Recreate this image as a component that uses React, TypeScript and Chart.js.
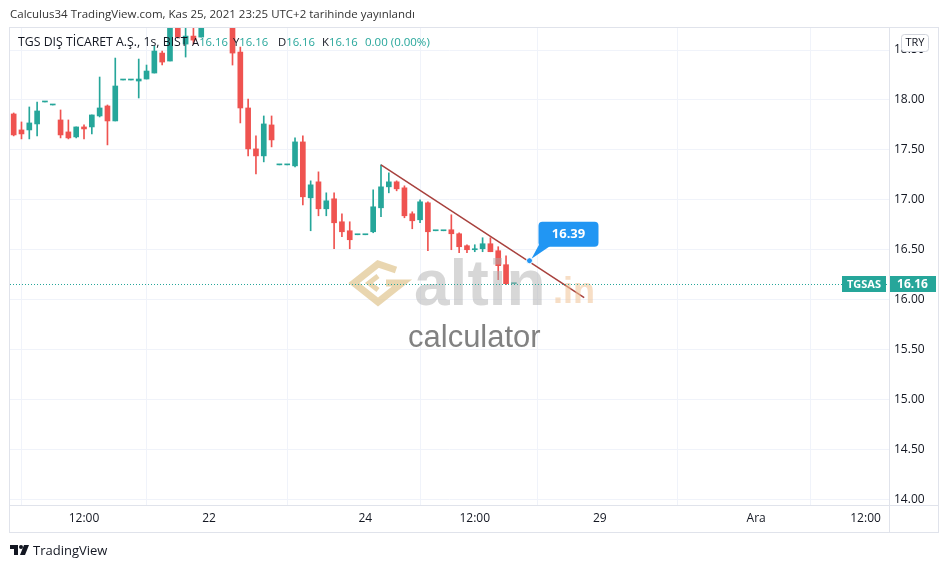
import React, { useEffect, useRef } from "react";
import { Chart, registerables } from "chart.js";

Chart.register(...registerables);

// ---- data (hourly bars, index 0 = first bar of Nov 22) ----
const BAR_INDEX = [
  -25, -24, -23, -22, -21, -20, -19, -18, -17, -16, -15, -14, -13, -12, -11, -10, -9, -8, -7, -6, -5, -4, -3, -2, -1,
  0, 1, 2, 3, 4, 5, 6, 7, 8, 9, 10, 11, 12, 13, 14, 15, 16, 17, 18, 19, 20, 21, 22, 23, 24, 25, 26, 27, 28, 29,
  30, 31, 32, 33, 34, 35, 36, 37, 38, 39,
];
const OPEN = [
  17.86, 17.70, 17.70, 17.76, 17.98, 17.95, 17.80, 17.68, 17.63, 17.73, 17.73, 17.84, 17.94, 17.79, 18.20, 18.20,
  18.19, 18.21, 18.27, 18.47, 18.39, 18.80, 18.56, 18.64, 18.63,
  18.95, 19.00, 18.85, 18.80, 18.48, 17.92, 17.51, 17.44, 17.75, 17.35, 17.35, 17.34, 17.58, 17.02, 17.18, 16.91,
  17.01, 16.78, 16.69, 16.65, 16.65, 16.68, 16.92, 17.13, 17.18, 17.12, 16.86, 16.80, 16.97, 16.69,
  16.69, 16.70, 16.66, 16.54, 16.50, 16.51, 16.56, 16.49, 16.35, 16.16,
];
const HIGH = [
  17.87, 17.78, 17.93, 17.98, 17.98, 17.95, 17.90, 17.80, 17.73, 17.75, 17.85, 18.23, 17.95, 18.42, 18.20, 18.20,
  18.41, 18.35, 18.54, 18.49, 18.82, 18.84, 18.76, 18.76, 18.90,
  19.10, 19.05, 18.90, 18.85, 18.53, 18.01, 17.64, 17.84, 17.84, 17.35, 17.35, 17.62, 17.64, 17.19, 17.28, 17.07,
  17.07, 16.86, 16.78, 16.65, 16.65, 17.10, 17.35, 17.27, 17.19, 17.14, 16.88, 17.00, 16.98, 16.69,
  16.69, 16.85, 16.67, 16.55, 16.55, 16.62, 16.62, 16.53, 16.44, 16.16,
];
const LOW = [
  17.64, 17.61, 17.61, 17.64, 17.98, 17.95, 17.62, 17.61, 17.62, 17.61, 17.66, 17.83, 17.55, 17.79, 18.20, 18.20,
  18.02, 18.21, 18.27, 18.35, 18.39, 18.62, 18.43, 18.56, 18.63,
  18.85, 18.80, 18.76, 18.35, 17.77, 17.44, 17.26, 17.38, 17.53, 17.35, 17.35, 17.33, 16.95, 16.69, 16.84, 16.84,
  16.51, 16.63, 16.51, 16.65, 16.65, 16.67, 16.83, 17.07, 17.09, 16.82, 16.71, 16.77, 16.49, 16.69,
  16.69, 16.50, 16.47, 16.47, 16.48, 16.48, 16.48, 16.20, 16.15, 16.16,
];
const CLOSE = [
  17.65, 17.66, 17.77, 17.89, 17.98, 17.95, 17.65, 17.62, 17.73, 17.71, 17.85, 17.92, 17.79, 18.14, 18.20, 18.20,
  18.21, 18.29, 18.49, 18.38, 18.80, 18.63, 18.64, 18.60, 18.85,
  19.00, 18.85, 18.80, 18.47, 17.92, 17.51, 17.44, 17.76, 17.60, 17.35, 17.35, 17.58, 17.03, 17.15, 16.91, 16.99,
  16.77, 16.68, 16.60, 16.65, 16.65, 16.93, 17.13, 17.18, 17.11, 16.84, 16.79, 16.98, 16.68, 16.69,
  16.69, 16.66, 16.53, 16.50, 16.51, 16.56, 16.48, 16.34, 16.16, 16.16,
];

const TREND_X = [22, 48];
const TREND_Y = [17.35, 16.02];
const CALLOUT_X = 41;
const CALLOUT_VALUE = 16.39;
const LAST_PRICE = 16.16;
const SYMBOL = "TGSAS";

const PRICE_TICKS = [14.0, 14.5, 15.0, 15.5, 16.0, 16.5, 17.0, 17.5, 18.0, 18.5];
const TIME_TICK_INDEX = [-16, 0, 20, 34, 50, 70, 84];
const TIME_TICK_LABELS = ["12:00", "22", "24", "12:00", "29", "Ara", "12:00"];

const LEGEND_KEYS = ["A", "Y", "D", "K"];
const LEGEND_VALUES = ["16.16", "16.16", "16.16", "16.16"];
const LEGEND_CHANGE = "0.00 (0.00%)";

const X_MIN = -25.47;
const X_MAX = 87.0;
const Y_MIN = 13.943;
const Y_MAX = 18.731;

const UP = "#26a69a";
const DOWN = "#ef5350";
const GRID = "#f0f3fa";
const BORDER = "#e0e3eb";
const TEXT = "#131722";
const FONT = "'Open Sans', 'Noto Sans', sans-serif";

function roundRect(ctx: CanvasRenderingContext2D, x: number, y: number, w: number, h: number, r: number) {
  ctx.beginPath();
  ctx.moveTo(x + r, y);
  ctx.lineTo(x + w - r, y);
  ctx.quadraticCurveTo(x + w, y, x + w, y + r);
  ctx.lineTo(x + w, y + h - r);
  ctx.quadraticCurveTo(x + w, y + h, x + w - r, y + h);
  ctx.lineTo(x + r, y + h);
  ctx.quadraticCurveTo(x, y + h, x, y + h - r);
  ctx.lineTo(x, y + r);
  ctx.quadraticCurveTo(x, y, x + r, y);
  ctx.closePath();
}

function drawWatermark(ctx: CanvasRenderingContext2D) {
  ctx.save();
  ctx.strokeStyle = "rgba(226, 200, 150, 0.75)";
  ctx.lineJoin = "miter";
  ctx.lineWidth = 7;
  ctx.beginPath();
  ctx.moveTo(396, 270);
  ctx.lineTo(378, 264);
  ctx.lineTo(354, 283);
  ctx.lineTo(378, 302);
  ctx.lineTo(402, 283);
  ctx.lineTo(386, 283);
  ctx.stroke();
  ctx.lineWidth = 5;
  ctx.beginPath();
  ctx.moveTo(378, 276);
  ctx.lineTo(369, 283);
  ctx.lineTo(378, 290);
  ctx.stroke();
  ctx.textBaseline = "alphabetic";
  ctx.textAlign = "left";
  ctx.font = "bold 64px 'Liberation Sans', Arial, sans-serif";
  ctx.fillStyle = "rgba(175, 175, 175, 0.5)";
  ctx.fillText("altin", 414, 305);
  ctx.font = "bold 36px 'Liberation Sans', Arial, sans-serif";
  ctx.fillStyle = "rgba(240, 195, 150, 0.55)";
  ctx.fillText(".in", 553, 303);
  ctx.font = "31px 'Liberation Sans', Arial, sans-serif";
  ctx.fillStyle = "rgba(115, 115, 115, 0.9)";
  ctx.fillText("calculator", 408, 347);
  ctx.restore();
}

const overlayPlugin = {
  id: "tvOverlay",
  afterDatasetsDraw(chart: any) {
    const { ctx, chartArea: a, scales } = chart;
    const xs = scales.x;
    const ys = scales.y;
    ctx.save();
    ctx.beginPath();
    ctx.rect(a.left, a.top, a.right - a.left, a.bottom - a.top);
    ctx.clip();

    drawWatermark(ctx);

    const py = Math.round(ys.getPixelForValue(LAST_PRICE)) + 0.5;
    ctx.setLineDash([1, 2]);
    ctx.strokeStyle = UP;
    ctx.lineWidth = 1;
    ctx.beginPath();
    ctx.moveTo(a.left, py);
    ctx.lineTo(a.right, py);
    ctx.stroke();
    ctx.setLineDash([]);

    ctx.fillStyle = UP;
    ctx.fillRect(a.right - 47, py - 8.5, 44, 16);
    ctx.fillStyle = "#ffffff";
    ctx.font = `bold 11px ${FONT}`;
    ctx.textAlign = "center";
    ctx.textBaseline = "middle";
    ctx.fillText(SYMBOL, a.right - 25, py);

    const dx = xs.getPixelForValue(CALLOUT_X);
    const dy = ys.getPixelForValue(CALLOUT_VALUE);
    ctx.fillStyle = "#2196f3";
    ctx.beginPath();
    ctx.moveTo(dx + 10, dy - 17);
    ctx.lineTo(dx + 24, dy - 17);
    ctx.lineTo(dx + 2, dy - 2);
    ctx.closePath();
    ctx.fill();
    roundRect(ctx, dx + 9, dy - 39, 60, 25, 4);
    ctx.fill();
    ctx.fillStyle = "#ffffff";
    ctx.font = `bold 13px ${FONT}`;
    ctx.fillText(CALLOUT_VALUE.toFixed(2), dx + 39, dy - 26.5);
    ctx.beginPath();
    ctx.arc(dx, dy, 3, 0, Math.PI * 2);
    ctx.fillStyle = "#2196f3";
    ctx.fill();
    ctx.lineWidth = 1;
    ctx.strokeStyle = "#ffffff";
    ctx.stroke();
    ctx.restore();
  },
  afterDraw(chart: any) {
    const { ctx, chartArea: a, scales } = chart;
    const ys = scales.y;
    ctx.save();
    const py = Math.round(ys.getPixelForValue(LAST_PRICE)) + 0.5;
    ctx.fillStyle = UP;
    ctx.fillRect(a.right, py - 8.5, 47, 16);
    ctx.fillStyle = "#ffffff";
    ctx.font = `bold 12px ${FONT}`;
    ctx.textAlign = "center";
    ctx.textBaseline = "middle";
    ctx.fillText(LAST_PRICE.toFixed(2), a.right + 23.5, py);

    roundRect(ctx, 901.5, 34.5, 27, 17, 3);
    ctx.fillStyle = "#ffffff";
    ctx.fill();
    ctx.strokeStyle = "#d1d4dc";
    ctx.lineWidth = 1;
    ctx.stroke();
    ctx.fillStyle = TEXT;
    ctx.font = `11px ${FONT}`;
    ctx.fillText("TRY", 915, 43);

    ctx.strokeStyle = BORDER;
    ctx.lineWidth = 1;
    ctx.strokeRect(9.5, 27.5, 929, 505);
    ctx.beginPath();
    ctx.moveTo(9, a.bottom + 0.5);
    ctx.lineTo(939, a.bottom + 0.5);
    ctx.moveTo(a.right + 0.5, 27);
    ctx.lineTo(a.right + 0.5, 533);
    ctx.stroke();
    ctx.restore();
  },
};

const LEGEND_LEFT = [192, 233, 278, 322];

export default function App() {
  const canvasRef = useRef<HTMLCanvasElement | null>(null);

  useEffect(() => {
    const canvas = canvasRef.current;
    if (!canvas) return;
    const colors = OPEN.map((o, i) => (CLOSE[i] >= o ? UP : DOWN));
    const chart = new Chart(canvas, {
      type: "bar",
      data: {
        datasets: [
          {
            type: "line",
            data: TREND_X.map((x, i) => ({ x, y: TREND_Y[i] })),
            borderColor: "#a8413d",
            borderWidth: 1.5,
            pointRadius: 0,
            order: 1,
          } as any,
          {
            type: "bar",
            data: BAR_INDEX.map((x, i) => ({ x, y: [OPEN[i], CLOSE[i]] })),
            backgroundColor: colors,
            borderWidth: 0,
            barThickness: 5,
            minBarLength: 1,
            grouped: false,
            order: 2,
          } as any,
          {
            type: "bar",
            data: BAR_INDEX.map((x, i) => ({ x, y: [LOW[i], HIGH[i]] })),
            backgroundColor: colors,
            borderWidth: 0,
            barThickness: 1,
            grouped: false,
            order: 3,
          } as any,
        ],
      },
      options: {
        responsive: false,
        animation: false,
        devicePixelRatio: 1,
        layout: { padding: { left: 10, top: 27, right: 10, bottom: 35 } },
        plugins: { legend: { display: false }, tooltip: { enabled: false } },
        events: [],
        scales: {
          x: {
            type: "linear",
            min: X_MIN,
            max: X_MAX,
            offset: false,
            grid: { color: GRID, drawTicks: false },
            border: { display: false },
            afterBuildTicks: (scale: any) => {
              scale.ticks = TIME_TICK_INDEX.map((v) => ({ value: v }));
            },
            afterFit: (scale: any) => {
              scale.height = 28;
            },
            ticks: {
              autoSkip: false,
              maxRotation: 0,
              padding: 6,
              color: TEXT,
              font: { family: FONT, size: 12 },
              callback: (v: any) => {
                const k = TIME_TICK_INDEX.indexOf(Number(v));
                return k >= 0 ? TIME_TICK_LABELS[k] : "";
              },
            },
          },
          y: {
            type: "linear",
            position: "right",
            min: Y_MIN,
            max: Y_MAX,
            grid: { color: GRID, drawTicks: false },
            border: { display: false },
            afterBuildTicks: (scale: any) => {
              scale.ticks = PRICE_TICKS.map((v) => ({ value: v }));
            },
            afterFit: (scale: any) => {
              scale.width = 50;
            },
            ticks: {
              padding: 5,
              color: TEXT,
              font: { family: FONT, size: 12 },
              callback: (v: any) => Number(v).toFixed(2),
            },
          },
        },
      },
      plugins: [overlayPlugin],
    } as any);
    return () => chart.destroy();
  }, []);

  return (
    <div
      style={{
        position: "fixed",
        left: 0,
        top: 0,
        width: 949,
        height: 568,
        background: "#ffffff",
        overflow: "hidden",
        fontFamily: FONT,
        color: TEXT,
      }}
    >
      <canvas ref={canvasRef} width={949} height={568} style={{ position: "absolute", left: 0, top: 0 }} />
      <div style={{ position: "absolute", left: 10, top: 6, fontSize: 11.5, lineHeight: "16px", color: "#333" }}>
        Calculus34 TradingView.com, Kas 25, 2021 23:25 UTC+2 tarihinde yayınlandı
      </div>
      <div style={{ position: "absolute", left: 18, top: 34, fontSize: 12.3, lineHeight: "16px", whiteSpace: "pre" }}>
        TGS DIŞ TİCARET A.Ş., 1s, BIST
      </div>
      {LEGEND_KEYS.map((k, i) => (
        <div
          key={k}
          style={{
            position: "absolute",
            left: LEGEND_LEFT[i],
            top: 34,
            fontSize: 11.3,
            lineHeight: "16px",
            whiteSpace: "pre",
          }}
        >
          <span style={{ color: TEXT }}>{k}</span>
          <span style={{ color: UP }}>{LEGEND_VALUES[i]}</span>
        </div>
      ))}
      <div
        style={{
          position: "absolute",
          left: 365,
          top: 34,
          fontSize: 11.5,
          lineHeight: "16px",
          whiteSpace: "pre",
          color: UP,
        }}
      >
        {LEGEND_CHANGE}
      </div>
      <svg style={{ position: "absolute", left: 10, top: 544 }} width={22} height={12} viewBox="0 0 22 12">
        <path d="M0 1 H8 V11 H4 V5 H0 Z" fill={TEXT} />
        <circle cx={11} cy={3} r={2} fill={TEXT} />
        <path d="M14 1 H19 L15 11 H10 Z" fill={TEXT} />
      </svg>
      <div style={{ position: "absolute", left: 33, top: 542, fontSize: 13, lineHeight: "16px", color: TEXT }}>
        TradingView
      </div>
    </div>
  );
}
